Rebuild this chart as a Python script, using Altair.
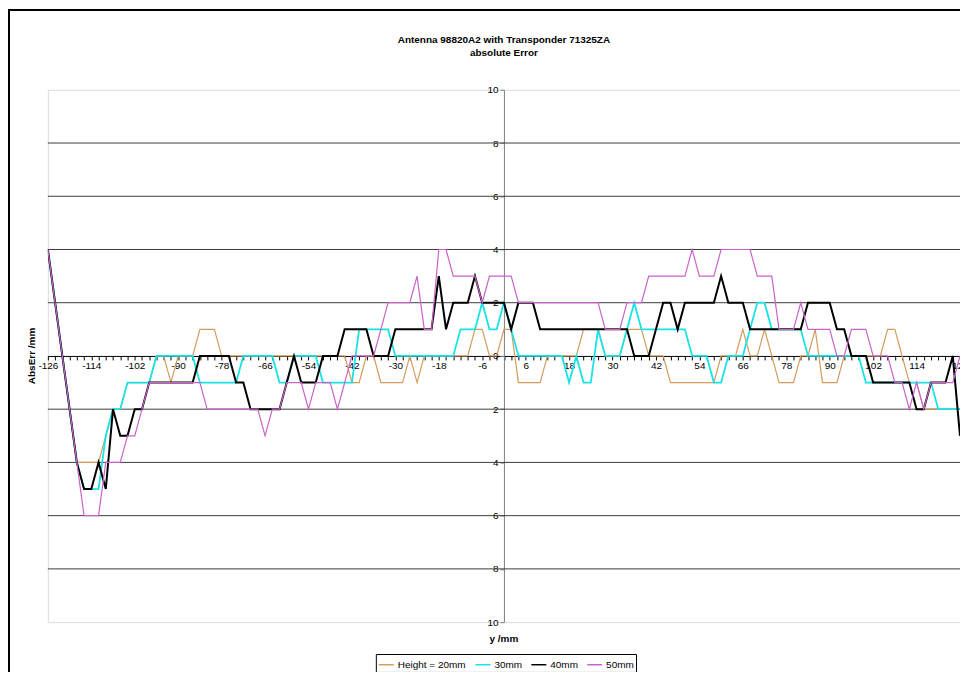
import altair as alt
import pandas as pd

# ---------------- data ----------------
x_mm = list(range(-126, 127, 2))

h20 = [4, 2, 0, -2, -4, -4, -4, -4, -3, -2,
       -2, -1, -1, -1, -1, 0, 0, -1, 0, 0,
       0, 1, 1, 1, 0, 0, 0, 0, 0, 0,
       0, 0, 0, 0, 0, 0, 0, 0, 0, 0,
       0, 0, -1, -1, 0, 0, -1, -1, -1, -1,
       0, -1, 0, 0, 0, 0, 0, 0, 0, 1,
       1, 0, 0, 1, 1, -1, -1, -1, -1, 0,
       0, 0, 0, 0, 1, 1, 1, 0, 0, 0,
       1, 1, 1, 0, 0, 0, -1, -1, -1, -1,
       -1, -1, -1, 0, 0, 0, 1, 0, 0, 1,
       0, -1, -1, -1, 0, 0, 1, -1, -1, -1,
       0, 0, 0, 0, 0, 0, 1, 1, 0, -1,
       -1, -2, -2, -2, -2, -2, -2]

h30 = [4, 2, 0, -2, -4, -5, -5, -5, -3, -2,
       -2, -1, -1, -1, -1, 0, 0, 0, 0, 0,
       0, -1, -1, -1, -1, -1, -1, 0, 0, 0,
       0, 0, -1, -1, 0, 0, 0, 0, -1, -1,
       -1, -1, -1, 1, 1, 1, 1, 1, 0, 0,
       0, 0, 0, 0, 0, 0, 0, 1, 1, 1,
       2, 1, 1, 2, 1, 0, 0, 0, 0, 0,
       0, 0, -1, 0, -1, -1, 1, 0, 0, 0,
       1, 2, 1, 1, 1, 1, 1, 1, 1, 0,
       0, 0, -1, -1, 0, 0, 0, 1, 2, 2,
       1, 1, 1, 1, 1, 0, 0, 0, 0, 0,
       0, 0, 0, -1, -1, -1, -1, -1, -1, -1,
       -1, -1, -1, -2, -2, -2, -2]

h40 = [4, 2, 0, -2, -4, -5, -5, -4, -5, -2,
       -3, -3, -2, -2, -1, -1, -1, -1, -1, -1,
       -1, 0, 0, 0, 0, 0, -1, -1, -2, -2,
       -2, -2, -2, -1, 0, -1, -1, -1, 0, 0,
       0, 1, 1, 1, 1, 0, 0, 0, 1, 1,
       1, 1, 1, 1, 3, 1, 2, 2, 2, 3,
       2, 2, 2, 2, 1, 2, 2, 2, 1, 1,
       1, 1, 1, 1, 1, 1, 1, 1, 1, 1,
       1, 0, 0, 0, 1, 2, 2, 1, 2, 2,
       2, 2, 2, 3, 2, 2, 2, 1, 1, 1,
       1, 1, 1, 1, 1, 2, 2, 2, 2, 1,
       1, 0, 0, 0, -1, -1, -1, -1, -1, -1,
       -2, -2, -1, -1, -1, 0, -3]

h50 = [4, 2, 0, -2, -4, -6, -6, -6, -4, -4,
       -4, -3, -3, -2, -1, -1, -1, -1, -1, -1,
       -1, -1, -2, -2, -2, -2, -2, -2, -2, -2,
       -3, -2, -2, -1, -1, -1, -2, -1, -1, -1,
       -2, -1, 0, 0, 0, 0, 1, 2, 2, 2,
       2, 3, 1, 1, 4, 4, 3, 3, 3, 3,
       2, 3, 3, 3, 3, 2, 2, 2, 2, 2,
       2, 2, 2, 2, 2, 2, 2, 1, 1, 1,
       2, 2, 2, 3, 3, 3, 3, 3, 3, 4,
       3, 3, 3, 4, 4, 4, 4, 4, 3, 3,
       3, 1, 1, 1, 2, 1, 1, 1, 1, 0,
       0, 1, 1, 1, 0, 0, 0, -1, -1, -2,
       -1, -2, -1, -1, -1, -1, 0]

series_names = ["Height = 20mm", "30mm", "40mm", "50mm"]
series_values = [h20, h30, h40, h50]
series_colors = ["#D39B5C", "#1BE2E5", "#000000", "#C963C9"]
series_widths = [1.2, 1.8, 2.0, 1.2]

y_ticks = list(range(-10, 11, 2))
grid_levels = [-8, -6, -4, -2, 2, 4, 6, 8]
title_lines = ["Antenna 98820A2 with Transponder 71325ZA", "absolute Error"]
y_title = "AbsErr /mm"
x_title = "y /mm"

# ---------------- chart ----------------
W, H = 915, 534
FONT = "Liberation Sans"

records = []
for name, vals in zip(series_names, series_values):
    assert len(vals) == len(x_mm), (name, len(vals))
    for xv, yv in zip(x_mm, vals):
        records.append({"pos": xv, "err": yv, "series": name})
df = pd.DataFrame(records)

xscale = alt.Scale(domain=[-126, 126], nice=False, zero=False)
yscale = alt.Scale(domain=[-10, 10], nice=False, zero=False)

x_axis = alt.Axis(
    orient="bottom", offset=-H / 2, values=x_mm, title=None, grid=False,
    labelExpr="(datum.value + 126) % 12 == 0 ? '' + datum.value : ''",
    tickSize=4, tickColor="black", domainColor="black", domainWidth=1,
    labelFont=FONT, labelFontSize=10, labelColor="black", labelPadding=1,
    labelFlush=False, labelOverlap=False, labelBound=False,
)
y_axis = alt.Axis(
    orient="left", offset=-W / 2, values=y_ticks, title=None, grid=False,
    labelExpr="'' + abs(datum.value)",
    tickSize=4, tickColor="#808080", domainColor="#808080", domainWidth=1,
    labelFont=FONT, labelFontSize=10, labelColor="black", labelPadding=2,
    labelFlush=False, labelOverlap=False, labelBound=False,
)

color = alt.Color(
    "series:N",
    scale=alt.Scale(domain=series_names, range=series_colors),
    legend=alt.Legend(
        orient="none", legendX=329, legendY=566, direction="horizontal",
        columns=4, title=None, strokeColor="black", fillColor="white",
        padding=2, symbolType="stroke", symbolSize=225, symbolStrokeWidth=1.5,
        labelFont=FONT, labelFontSize=10, labelColor="black",
        labelOffset=3, columnPadding=6,
    ),
)

grid = alt.Chart(pd.DataFrame({"level": grid_levels})).mark_rule(
    color="#3c3c3c", strokeWidth=1
).encode(y=alt.Y("level:Q", scale=yscale, axis=y_axis))

layers = [grid]
for name, w in zip(series_names, series_widths):
    layers.append(
        alt.Chart(df).transform_filter(alt.datum.series == name)
        .mark_line(strokeWidth=w, clip=True)
        .encode(
            x=alt.X("pos:Q", scale=xscale, axis=x_axis),
            y=alt.Y("err:Q", scale=yscale, axis=y_axis),
            color=color,
        )
    )

title1 = alt.Chart(pd.DataFrame({"t": [title_lines[0]]})).mark_text(
    font=FONT, fontSize=10, fontWeight="bold", color="black", baseline="middle"
).encode(text="t:N", x=alt.value(W / 2), y=alt.value(-50))

title2 = alt.Chart(pd.DataFrame({"t": [title_lines[1]]})).mark_text(
    font=FONT, fontSize=10, fontWeight="bold", color="black", baseline="middle"
).encode(text="t:N", x=alt.value(W / 2), y=alt.value(-37))

ytitle = alt.Chart(pd.DataFrame({"t": [y_title]})).mark_text(
    font=FONT, fontSize=10, fontWeight="bold", angle=270, color="black"
).encode(text="t:N", x=alt.value(-16), y=alt.value(H / 2))

xtitle = alt.Chart(pd.DataFrame({"t": [x_title]})).mark_text(
    font=FONT, fontSize=10, fontWeight="bold", color="black", baseline="middle"
).encode(text="t:N", x=alt.value(W / 2), y=alt.value(551))

frame_left = alt.Chart(pd.DataFrame({"k": [0]})).mark_rule(
    color="black", strokeWidth=2
).encode(x=alt.value(-39), y=alt.value(-81), y2=alt.value(H + 60))
frame_top = alt.Chart(pd.DataFrame({"k": [0]})).mark_rule(
    color="black", strokeWidth=2
).encode(x=alt.value(-40), x2=alt.value(W + 20), y=alt.value(-80))

chart = alt.layer(
    *layers, title1, title2, ytitle, xtitle, frame_left, frame_top
).properties(
    width=W, height=H,
    autosize="none",
    padding={"left": 40, "top": 81, "right": 0, "bottom": 49},
).configure_view(stroke="#8c8c8c", strokeWidth=1).configure(font=FONT)

chart.save("out.html", embed_options={"renderer": "svg", "actions": False})
